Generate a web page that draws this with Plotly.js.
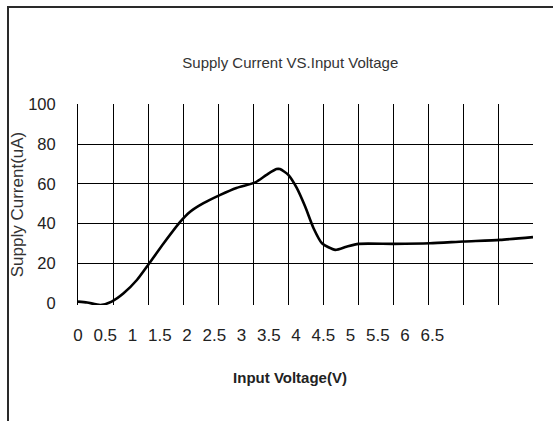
<!DOCTYPE html>
<html>
<head>
<meta charset="utf-8">
<script src="https://cdn.plot.ly/plotly-3.0.1.min.js"></script>
<style>
  html, body { margin: 0; padding: 0; background: #fff; }
  #wrap { position: relative; width: 553px; height: 421px; overflow: hidden; }
  #chart { width: 553px; height: 421px; }
  #frame { position: absolute; left: 7px; top: 6px; width: 560px; height: 413px;
           border-left: 2px solid #2a2a2a; border-top: 2px solid #2a2a2a;
           border-bottom: 1px solid #d8d8d8; pointer-events: none; }
</style>
</head>
<body>
<div id="wrap">
  <div id="chart"></div>
  <div id="frame"></div>
</div>
<script>
// Data
const voltage = [0, 0.13, 0.32, 0.48, 0.65, 0.84, 1.0, 1.22, 1.46, 1.6, 1.79, 2.03, 2.26, 2.53, 2.69, 2.83, 2.88, 3.0, 3.12, 3.24, 3.36, 3.48, 3.67, 3.83, 4.0, 4.5, 5.02, 5.5, 6.02, 6.49];
const current = [0.7, 0.3, -1, 0.7, 4.9, 11.6, 19.2, 30, 41, 46, 50.3, 54.5, 58, 60.8, 64.6, 67.5, 67.5, 64.6, 58, 48.6, 37.7, 30.1, 26.8, 28.4, 29.8, 29.8, 30.1, 31, 31.8, 33.2];

const xTickVals = [0, 0.5, 1, 1.5, 2, 2.5, 3, 3.5, 4, 4.5, 5, 5.5, 6, 6.5];
const xTickText = ['0', '0.5', '1', '1.5', '2', '2.5', '3', '3.5', '4', '4.5', '5', '5.5', '6', '6.5'];
const yTickVals = [0, 20, 40, 60, 80, 100];
const yTickText = ['0', '20', '40', '60', '80', '100'];

const chartTitle = 'Supply Current VS.Input Voltage';
const xTitle = 'Input Voltage(V)';
const yTitle = 'Supply Current(uA)';

const regular = 'Liberation Sans, Arial, sans-serif';

const traces = [
  {
    x: voltage, y: current, xaxis: 'x', yaxis: 'y',
    type: 'scatter', mode: 'lines',
    line: { color: '#000', width: 2.6, shape: 'spline', smoothing: 0.6 },
    hoverinfo: 'x+y', showlegend: false
  },
  {
    x: [xTickVals[0]], y: [null], xaxis: 'x2', yaxis: 'y',
    type: 'scatter', mode: 'lines', showlegend: false, hoverinfo: 'skip'
  }
];

const layout = {
  width: 553, height: 421,
  margin: { l: 78, r: 20, t: 104, b: 116 },
  paper_bgcolor: 'rgba(0,0,0,0)', plot_bgcolor: 'rgba(0,0,0,0)',
  showlegend: false,
  title: {
    text: chartTitle, x: 0.525, xanchor: 'center', y: 0.852, yanchor: 'middle',
    font: { family: regular, size: 15, color: '#333' }
  },
  xaxis: {
    range: [0, 6.49], dtick: 0.5, tick0: 0,
    showgrid: true, gridcolor: '#000', gridwidth: 1,
    zeroline: false, showline: false, showticklabels: false, ticks: ''
  },
  xaxis2: {
    domain: [0, 0.932], anchor: 'y',
    range: [0, 7.78],
    tickmode: 'array', tickvals: xTickVals, ticktext: xTickText,
    showgrid: false, zeroline: false, showline: false, ticks: '',
    ticklabelstandoff: 18,
    tickfont: { family: regular, size: 17, color: '#222' },
    title: { text: xTitle, standoff: 28, font: { family: regular, size: 15, color: '#222', weight: 'bold' } }
  },
  yaxis: {
    range: [-1, 100.3],
    tickmode: 'array', tickvals: yTickVals, ticktext: yTickText,
    showgrid: true, gridcolor: '#000', gridwidth: 1,
    zeroline: true, zerolinecolor: 'rgba(0,0,0,0)',
    showline: true, linecolor: '#000', linewidth: 1,
    ticks: '', ticklabelstandoff: 18,
    tickfont: { family: regular, size: 16.5, color: '#222' },
    title: { text: yTitle, standoff: 0, font: { family: regular, size: 17, color: '#333' } }
  }
};

Plotly.newPlot('chart', traces, layout, { displayModeBar: false });
</script>
</body>
</html>
